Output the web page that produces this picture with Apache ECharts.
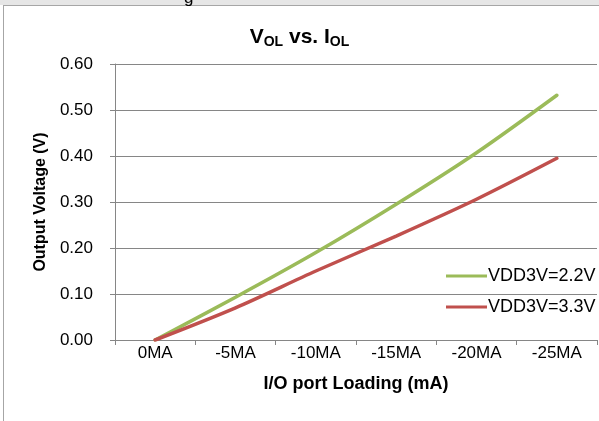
<!DOCTYPE html>
<html>
<head>
<meta charset="utf-8">
<script src="https://cdn.jsdelivr.net/npm/echarts@6/dist/echarts.min.js"></script>
<style>
  html, body { margin: 0; padding: 0; background: #fff; }
  #chart { width: 599px; height: 421px; }
</style>
</head>
<body>
<div id="chart"></div>
<script>
// x categories (load current) and measured output voltage
var loadLabels = ["0MA", "-5MA", "-10MA", "-15MA", "-20MA", "-25MA"];
var seriesNames = ["VDD3V=2.2V", "VDD3V=3.3V"];
var vdd22 = [0, 0.093, 0.19, 0.295, 0.407, 0.532];
var vdd33 = [0, 0.07, 0.15, 0.226, 0.306, 0.395];
var yTicks = { min: 0, max: 0.6, interval: 0.1 };

var font = "Liberation Sans, Arial, sans-serif";
var gridColor = "#868686";

var chart = echarts.init(document.getElementById("chart"));
chart.setOption({
  animation: false,
  textStyle: { fontFamily: font },
  graphic: [
    // light strip and frame from the spreadsheet screenshot
    { type: "rect", shape: { x: 0, y: 0, width: 599, height: 5 }, style: { fill: "#e6e6e6" }, silent: true },
    { type: "line", shape: { x1: 3, y1: 5.5, x2: 599, y2: 5.5 }, style: { stroke: "#a6a6a6", lineWidth: 1 }, silent: true },
    { type: "line", shape: { x1: 3.5, y1: 5, x2: 3.5, y2: 421 }, style: { stroke: "#a6a6a6", lineWidth: 1 }, silent: true },
    { type: "text", left: 184, top: -10, style: { text: "g", font: "17px " + font, fill: "#000" }, silent: true }
  ],
  title: {
    text: "{a|V}{s|OL}{a| vs. I}{s|OL}",
    left: "center",
    top: 20,
    textStyle: {
      rich: {
        a: { fontFamily: font, fontSize: 21, fontWeight: "bold", color: "#000", lineHeight: 24 },
        s: { fontFamily: font, fontSize: 14, fontWeight: "bold", color: "#000", padding: [10, 0, 0, 0], lineHeight: 24 }
      }
    }
  },
  legend: {
    orient: "vertical",
    left: 446,
    top: 267,
    padding: 0,
    itemWidth: 41,
    itemHeight: 3,
    itemGap: 13,
    icon: "rect",
    textStyle: { fontFamily: font, fontSize: 18, color: "#000", padding: [0, 0, 0, -4] },
    data: seriesNames
  },
  grid: { left: 115, right: 2, top: 64, bottom: 81, containLabel: false },
  xAxis: {
    type: "category",
    data: loadLabels,
    boundaryGap: true,
    name: "I/O port Loading (mA)",
    nameLocation: "middle",
    nameGap: 35,
    nameTextStyle: { fontFamily: font, fontSize: 18, fontWeight: "bold", color: "#000" },
    axisLine: { lineStyle: { color: gridColor, width: 1 } },
    axisTick: { show: true, length: 5, alignWithLabel: false, lineStyle: { color: gridColor } },
    axisLabel: { color: "#000", fontSize: 17, fontFamily: font, margin: 5 },
    splitLine: { show: false }
  },
  yAxis: {
    type: "value",
    min: yTicks.min,
    max: yTicks.max,
    interval: yTicks.interval,
    name: "Output Voltage (V)",
    nameLocation: "middle",
    nameGap: 66,
    nameTextStyle: { fontFamily: font, fontSize: 16, fontWeight: "bold", color: "#000" },
    axisLine: { show: true, lineStyle: { color: gridColor, width: 1 } },
    axisTick: { show: true, length: 5, inside: false, lineStyle: { color: gridColor } },
    axisLabel: { color: "#000", fontSize: 17, fontFamily: font, margin: 22, formatter: function (v) { return v.toFixed(2); } },
    splitLine: { show: true, lineStyle: { color: gridColor, width: 1 } }
  },
  series: [
    {
      name: seriesNames[0],
      type: "line",
      data: vdd22,
      smooth: 0.3,
      showSymbol: false,
      color: "#9BBB59",
      lineStyle: { width: 3.5, color: "#9BBB59", cap: "round" }
    },
    {
      name: seriesNames[1],
      type: "line",
      data: vdd33,
      smooth: 0.3,
      showSymbol: false,
      color: "#C0504D",
      lineStyle: { width: 3.5, color: "#C0504D", cap: "round" }
    }
  ]
});
</script>
</body>
</html>
